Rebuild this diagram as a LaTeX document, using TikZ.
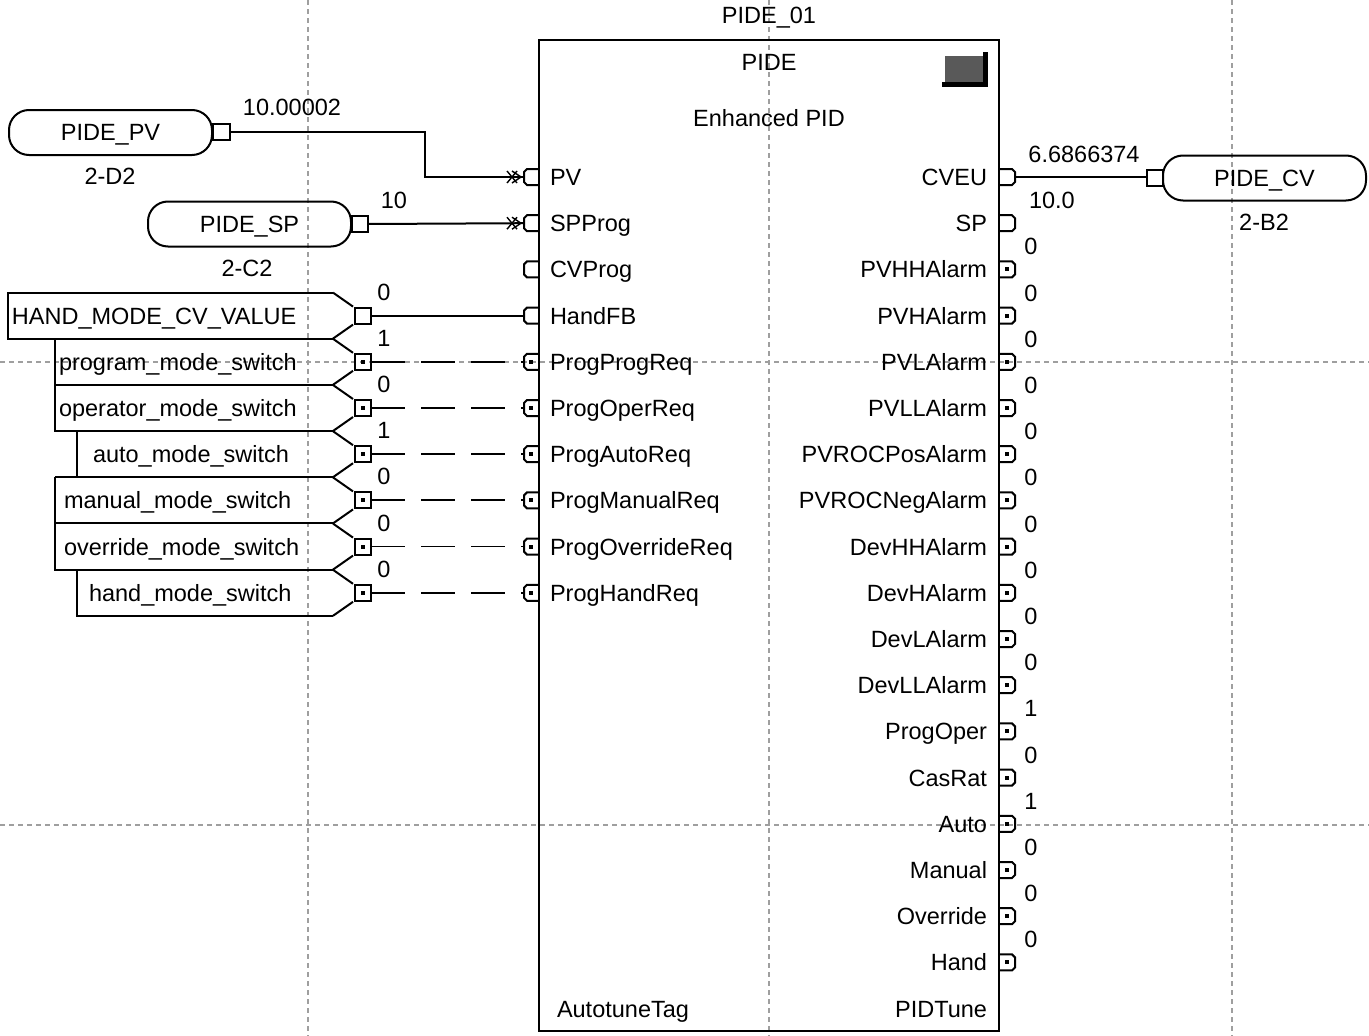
\documentclass[tikz,border=0pt]{standalone}
\usepackage{fontspec}
\setmainfont{Liberation Sans}
\newcommand\fsz{\fontsize{23.5}{26}\selectfont}
\newcommand\inpin[3]{%
  \draw (539,#2-8) -- (527,#2-8) -- (524,#2-5) -- (524,#2+5) -- (527,#2+8) -- (539,#2+8);
  \coordinate (#1) at (524,#2);
  \ifnum#3=1 \fill (529,#2-2) rectangle (533,#2+2);\fi}
\newcommand\outpin[3]{%
  \draw (999,#2-8) -- (1012,#2-8) -- (1015,#2-5) -- (1015,#2+5) -- (1012,#2+8) -- (999,#2+8);
  \coordinate (#1) at (1015,#2);
  \ifnum#3=1 \fill (1005,#2-2) rectangle (1009,#2+2);\fi}
\newcommand\tagpin[3]{%
  \draw (355,#2-8) rectangle (371,#2+8);
  \coordinate (#1) at (371,#2);
  \ifnum#3=1 \fill (361,#2-2) rectangle (365,#2+2);\fi}
\newcommand\xmark[1]{%
  \draw[line width=1.4pt] (507,#1-6) -- (517,#1+6) (507,#1+6) -- (517,#1-6) (512,#1-6) -- (521,#1) -- (512,#1+6);}
\begin{document}
\begin{tikzpicture}[x=1pt,y=-1pt,line width=2pt,
  lbl/.style={inner sep=0pt,text height=16.8pt,text depth=0pt,font=\fsz},
  gridline/.style={gray!75,line width=1.3pt,dash pattern=on 5pt off 4pt},
  wire/.style={line width=2pt},
  dwire/.style={line width=2pt,dash pattern=on 34pt off 16pt},
  oval/.style={draw,rounded corners=20pt,minimum width=203pt,minimum height=45pt,inner sep=0pt,font=\fsz,text height=16.8pt,text depth=0pt}]
\useasboundingbox (0,0) rectangle (1369,1036);
% grid
\draw[gridline] (308,0) -- (308,1036);
\draw[gridline] (769,0) -- (769,1036);
\draw[gridline] (1232,0) -- (1232,1036);
\draw[gridline] (0,362) -- (1369,362);
\draw[gridline] (0,825) -- (1369,825);
% block
\draw[line width=2.5pt] (539,40) rectangle (999,1031);
\node[lbl] (title) at (769,15) {PIDE\_01};
\node[lbl] (type) at (769,62) {PIDE};
\node[lbl] (desc) at (769,118) {Enhanced PID};
\fill[gray!70!black] (945,56) rectangle (983,82);
\fill (983,52) rectangle (988,87);
\fill (942,82) rectangle (988,87);
% input pins and labels
\inpin{iPV}{177}{0}\inpin{iSP}{223.2}{0}\inpin{iCV}{269.4}{0}\inpin{iHF}{315.6}{0}
\inpin{iPPR}{361.8}{1}\inpin{iPOR}{408}{1}\inpin{iPAR}{454.2}{1}\inpin{iPMR}{500.4}{1}
\inpin{iPOvR}{546.6}{1}\inpin{iPHR}{592.8}{1}
\foreach \t/\y in {PV/177,SPProg/223.2,CVProg/269.4,HandFB/315.6,ProgProgReq/361.8,ProgOperReq/408,ProgAutoReq/454.2,ProgManualReq/500.4,ProgOverrideReq/546.6,ProgHandReq/592.8}
  \node[lbl,anchor=west] (in\t) at (549,\y) {\t};
\node[lbl,anchor=west] (atag) at (556,1008.6) {AutotuneTag};
\node[lbl,anchor=east] (ptune) at (988,1008.6) {PIDTune};
% output pins and labels
\outpin{oCVEU}{177}{0}\outpin{oSP}{223.2}{0}
\foreach \t/\y/\v in {PVHHAlarm/269.4/0,PVHAlarm/315.6/0,PVLAlarm/361.8/0,PVLLAlarm/408/0,PVROCPosAlarm/454.2/0,PVROCNegAlarm/500.4/0,DevHHAlarm/546.6/0,DevHAlarm/592.8/0,DevLAlarm/639/0,DevLLAlarm/685.2/0,ProgOper/731.4/1,CasRat/777.6/0,Auto/823.8/1,Manual/870/0,Override/916.2/0,Hand/962.4/0}{
  \outpin{o\t}{\y}{1}
  \node[lbl] (v\t) at (1031,\y-23) {\v};
}
\foreach \t/\y in {CVEU/177,SP/223.2,PVHHAlarm/269.4,PVHAlarm/315.6,PVLAlarm/361.8,PVLLAlarm/408,PVROCPosAlarm/454.2,PVROCNegAlarm/500.4,DevHHAlarm/546.6,DevHAlarm/592.8,DevLAlarm/639,DevLLAlarm/685.2,ProgOper/731.4,CasRat/777.6,Auto/823.8,Manual/870,Override/916.2,Hand/962.4}
  \node[lbl,anchor=east] (out\t) at (988,\y) {\t};
% PIDE_PV tag
\node[oval] (tPV) at (110.5,132.5) {PIDE\_PV};
\draw (213,124) rectangle (230,140);
\coordinate (tPVo) at (230,132);
\node[lbl] (xPV) at (110,176) {2-D2};
\node[lbl] (vPV) at (292,107) {10.00002};
\xmark{177}
\draw[wire] (tPVo) -- (425,132) |- (iPV);
% PIDE_SP tag
\node[oval] (tSP) at (249.5,224) {PIDE\_SP};
\draw (352,216) rectangle (368,232);
\coordinate (tSPo) at (368,224);
\node[lbl] (xSP) at (247,268) {2-C2};
\node[lbl] (vSP) at (394,200) {10};
\xmark{223.2}
\draw[wire] (tSPo) -- (iSP);
% PIDE_CV tag
\node[oval] (tCV) at (1264.5,178) {PIDE\_CV};
\draw (1147,170) rectangle (1163,186);
\coordinate (tCVi) at (1147,177);
\node[lbl] (xCV) at (1264,222) {2-B2};
\node[lbl] (vCV) at (1084,154) {6.6866374};
\node[lbl,anchor=west] (vSPo) at (1028,200) {10.0};
\draw[wire] (oCVEU) -- (tCVi);
% left input reference tags
\draw (333,292.6) -- (8,292.6) -- (8,338.6) -- (333,338.6);
\draw (333,338.6) -- (55,338.6) -- (55,384.8) -- (333,384.8);
\draw (55,384.8) -- (55,431) -- (333,431);
\draw (77,431) -- (77,477.2);
\draw (55,477.2) -- (333,477.2);
\draw (55,477.2) -- (55,523.4) -- (333,523.4);
\draw (55,523.4) -- (55,569.6) -- (333,569.6);
\draw (77,569.6) -- (77,615.8) -- (333,615.8);
\foreach \y in {315.6,361.8,408,454.2,500.4,546.6,592.8}
  \draw (333,\y-23) -- (353,\y-9) (333,\y+23) -- (353,\y+9);
\tagpin{tHF}{315.6}{0}\tagpin{tPPR}{361.8}{1}\tagpin{tPOR}{408}{1}\tagpin{tPAR}{454.2}{1}
\tagpin{tPMR}{500.4}{1}\tagpin{tPOvR}{546.6}{1}\tagpin{tPHR}{592.8}{1}
\node[lbl,anchor=west] (nHF) at (11,315.6) {HAND\_MODE\_CV\_VALUE};
\node[lbl,anchor=west] (nPPR) at (58,361.8) {program\_mode\_switch};
\node[lbl,anchor=west] (nPOR) at (58,408) {operator\_mode\_switch};
\node[lbl,anchor=west] (nPAR) at (92,454.2) {auto\_mode\_switch};
\node[lbl,anchor=west] (nPMR) at (63,500.4) {manual\_mode\_switch};
\node[lbl,anchor=west] (nPOvR) at (63,546.6) {override\_mode\_switch};
\node[lbl,anchor=west] (nPHR) at (88,592.8) {hand\_mode\_switch};
\foreach \y/\v in {315.6/0,361.8/1,408/0,454.2/1,500.4/0,546.6/0,592.8/0}
  \node[lbl] at (384,\y-24) {\v};
\draw[wire] (tHF) -- (iHF);
\draw[dwire] (tPPR) -- (iPPR);
\draw[dwire] (tPOR) -- (iPOR);
\draw[dwire] (tPAR) -- (iPAR);
\draw[dwire] (tPMR) -- (iPMR);
\draw[dwire,line width=1.2pt] (tPOvR) -- (iPOvR);
\draw[dwire] (tPHR) -- (iPHR);
\end{tikzpicture}
\end{document}
